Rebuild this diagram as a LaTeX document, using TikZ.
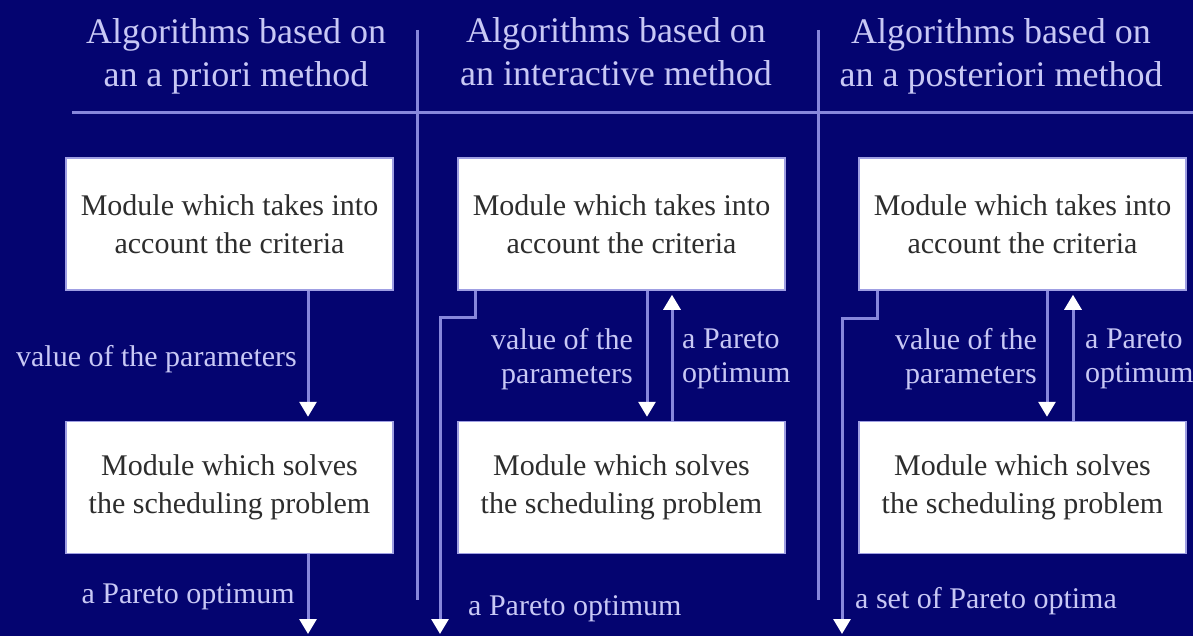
\documentclass[tikz,border=0pt]{standalone}
\usepackage{fontspec}
\setmainfont{Liberation Serif}
\usetikzlibrary{arrows.meta,calc,positioning}
\definecolor{navy}{RGB}{4,4,112}
\definecolor{wire}{RGB}{135,135,220}
\definecolor{pale}{RGB}{200,200,245}
\definecolor{ink}{RGB}{45,45,45}

\begin{document}
\begin{tikzpicture}[x=1pt,y=-1pt]
	\tikzstyle{module}=[draw=wire!80!white, line width=1.5pt, fill=white, text=ink, minimum width=327pt, minimum height=132pt, align=center, inner sep=0pt, font=\fontsize{30}{38}\selectfont]
	\tikzstyle{head}=[text=pale, align=center, inner sep=0pt, font=\fontsize{36}{43}\selectfont]
	\tikzstyle{lbl}=[text=pale, inner sep=0pt, font=\fontsize{30}{34}\selectfont]
	\tikzstyle{flow}=[draw=wire, line width=3pt, -{Triangle[color=white,width=17pt,length=15pt]}]
	\useasboundingbox (0,0) rectangle (1193,636);
	\fill [navy] (0,0) rectangle (1193,636);
	% column rules
	\draw [wire, line width=3pt] (72,113) -- (1193,113);
	\draw [wire, line width=3pt] (417,30) -- (417,600);
	\draw [wire, line width=3pt] (818,30) -- (818,600);
	% headings
	\node [head] (h1) at (236,56) {Algorithms based on\\an a priori method};
	\node [head] (h2) at (616,52) {Algorithms based on\\an interactive method};
	\node [head] (h3) at (1001,56) {Algorithms based on\\an a posteriori method};
	% modules
	\node [module] (t1) at (229.5,224) {Module which takes into\\account the criteria};
	\node [module] (s1) at (229.5,487.5) {Module which solves\\the scheduling problem};
	\node [module] (t2) at (621.5,224) {Module which takes into\\account the criteria};
	\node [module] (s2) at (621.5,487.5) {Module which solves\\the scheduling problem};
	\node [module] (t3) at (1022.5,224) {Module which takes into\\account the criteria};
	\node [module] (s3) at (1022.5,487.5) {Module which solves\\the scheduling problem};
	% a priori
	\coordinate (a1) at (308,0);
	\coordinate (e1) at (308,634);
	\draw [flow, shorten >=4pt] (t1.south -| a1) -- (s1.north -| a1);
	\draw [flow] (s1.south -| a1) -- (e1);
	\node [lbl, anchor=base east] (p1) at (297,366) {value of the parameters};
	\node [lbl, anchor=base east] (o1) at (295,603) {a Pareto optimum};
	% interactive
	\coordinate (k2) at (475,317);
	\coordinate (e2) at (440,634);
	\coordinate (d2) at (647,0);
	\coordinate (u2) at (672,0);
	\draw [flow] (t2.south -| k2) -- (k2) -| (e2);
	\draw [flow, shorten >=4pt] (t2.south -| d2) -- (s2.north -| d2);
	\draw [flow, shorten >=4pt] (s2.north -| u2) -- (t2.south -| u2);
	\node [lbl, align=right, anchor=east] (p2) at (633,359) {value of the\\parameters};
	\node [lbl, align=left, anchor=west] (q2) at (682,359) {a Pareto\\optimum};
	\node [lbl, anchor=base west] (o2) at (468,615) {a Pareto optimum};
	% a posteriori
	\coordinate (k3) at (877,318);
	\coordinate (e3) at (842,634);
	\coordinate (d3) at (1047,0);
	\coordinate (u3) at (1073,0);
	\draw [flow] (t3.south -| k3) -- (k3) -| (e3);
	\draw [flow, shorten >=4pt] (t3.south -| d3) -- (s3.north -| d3);
	\draw [flow, shorten >=4pt] (s3.north -| u3) -- (t3.south -| u3);
	\node [lbl, align=right, anchor=east] (p3) at (1037,359) {value of the\\parameters};
	\node [lbl, align=left, anchor=west] (q3) at (1085,359) {a Pareto\\optimum};
	\node [lbl, anchor=base west] (o3) at (855,608) {a set of Pareto optima};
\end{tikzpicture}
\end{document}
